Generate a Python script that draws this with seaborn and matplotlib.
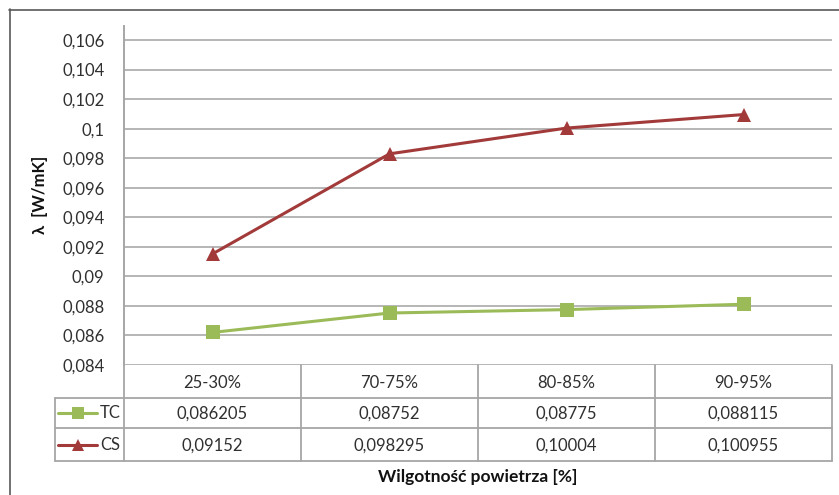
import matplotlib
matplotlib.use("Agg")
import matplotlib.pyplot as plt
from matplotlib.lines import Line2D
import pandas as pd
import seaborn as sns

# Humidity ranges and thermal conductivity per material
categories = ["25-30%", "70-75%", "80-85%", "90-95%"]
tc_values = [0.086205, 0.08752, 0.08775, 0.088115]
cs_values = [0.09152, 0.098295, 0.10004, 0.100955]
series_names = ["TC", "CS"]
y_ticks = [0.084, 0.086, 0.088, 0.09, 0.092, 0.094, 0.096, 0.098, 0.1, 0.102, 0.104, 0.106]

colors = {"TC": "#9BBB59", "CS": "#A23A3A"}
markers = {"TC": "s", "CS": "^"}

sns.set_theme(style="white")
plt.rcParams["font.family"] = ["Lato", "DejaVu Sans"]

W, H = 839, 495
fig = plt.figure(figsize=(W / 100, H / 100), dpi=100)


def fx(px):
    return px / W


def fy(py):
    return 1 - py / H


ax_l, ax_r, ax_t, ax_b = 124, 832, 26, 365
ax = fig.add_axes([fx(ax_l), fy(ax_b), fx(ax_r - ax_l), (ax_b - ax_t) / H])

df = pd.DataFrame({
    "pos": list(range(len(categories))) * 2,
    "value": tc_values + cs_values,
    "series": ["TC"] * len(categories) + ["CS"] * len(categories),
})

for name in series_names:
    sub = df[df["series"] == name]
    sns.lineplot(data=sub, x="pos", y="value", ax=ax, color=colors[name],
                 marker=markers[name], markersize=10 if name == "TC" else 10.5,
                 markeredgewidth=0, linewidth=2.2, legend=False, zorder=3)

fs = 12
ax.set_xlim(-0.5, len(categories) - 0.5)
ax.set_ylim(0.084, 0.10695)
ax.set_yticks(y_ticks)
ax.set_yticklabels([f"{v:g}".replace(".", ",") for v in y_ticks], fontsize=fs, color="#303030")
ax.set_xticks([])
ax.set_xlabel("")
ax.set_ylabel("")
ax.tick_params(axis="y", length=0, pad=14)
ax.yaxis.grid(True, color="#b5b5b5", linewidth=1.4)
ax.set_axisbelow(True)
for s in ["top", "right", "bottom"]:
    ax.spines[s].set_visible(False)
ax.spines["left"].set_color("#a6a6a6")
ax.spines["left"].set_linewidth(1.4)

grid_col = "#a6a6a6"


def fline(x0, y0, x1, y1, color=grid_col, lw=1.3):
    fig.add_artist(Line2D([fx(x0), fx(x1)], [fy(y0), fy(y1)], color=color, lw=lw))


# Data table below the plot
row_top, row_hdr, row_tc, row_cs = 365, 398, 428, 461
col_edges = [ax_l + i * (ax_r - ax_l) / len(categories) for i in range(len(categories) + 1)]
leg_left = 55

for x in col_edges:
    fline(x, row_top, x, row_cs)
fline(leg_left, row_hdr, leg_left, row_cs)
for y in (row_hdr, row_tc, row_cs):
    fline(leg_left, y, ax_r, y)

text_col = "#303030"
for i, cat in enumerate(categories):
    cx = (col_edges[i] + col_edges[i + 1]) / 2
    fig.text(fx(cx), fy((row_top + row_hdr) / 2 + 1), cat, ha="center", va="center",
             fontsize=fs, color=text_col)
    fig.text(fx(cx), fy((row_hdr + row_tc) / 2 + 1), f"{tc_values[i]:g}".replace(".", ","),
             ha="center", va="center", fontsize=fs, color=text_col)
    fig.text(fx(cx), fy((row_tc + row_cs) / 2 + 1), f"{cs_values[i]:g}".replace(".", ","),
             ha="center", va="center", fontsize=fs, color=text_col)

# Legend keys inside the table
for name, (y0, y1) in zip(series_names, [(row_hdr, row_tc), (row_tc, row_cs)]):
    cy = (y0 + y1) / 2
    fig.add_artist(Line2D([fx(58), fx(97)], [fy(cy), fy(cy)], color=colors[name], lw=2.2))
    fig.add_artist(Line2D([fx(78)], [fy(cy)], color=colors[name], marker=markers[name],
                          markersize=8, markeredgewidth=0))
    fig.text(fx(100), fy(cy), name, ha="left", va="center", fontsize=fs, color=text_col)

# Axis titles
fig.text(fx(478), fy(477), "Wilgotność powietrza [%]", ha="center", va="center",
         fontsize=12.5, fontweight="bold", color="#111111")
fig.text(fx(40), fy(195), "λ  [W/mK]", ha="center", va="center", rotation=90,
         fontsize=12, fontweight="bold", color="#111111")

# Chart frame
fline(9, 9.5, W, 9.5, color="#595959", lw=1.2)
fline(9.5, 9, 9.5, H, color="#595959", lw=1.2)

fig.savefig("out.png", dpi=100, facecolor="white")
